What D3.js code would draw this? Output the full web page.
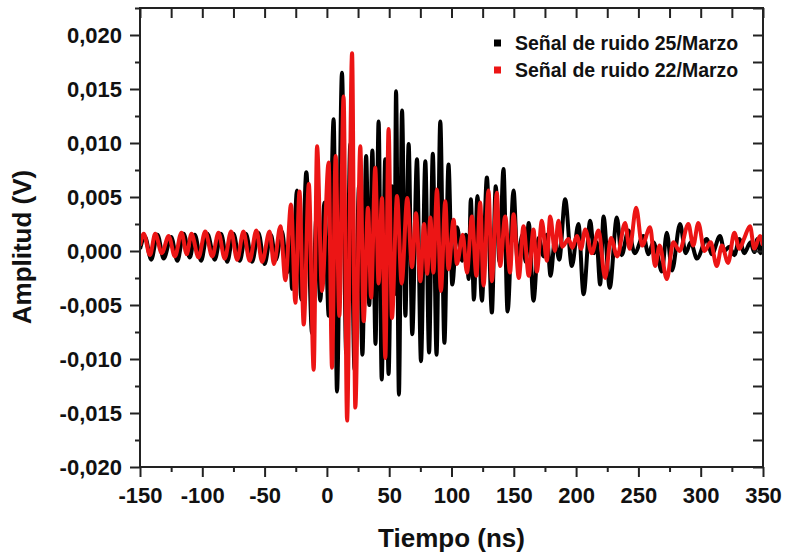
<!DOCTYPE html>
<html>
<head>
<meta charset="utf-8">
<script src="https://cdn.jsdelivr.net/npm/d3@7"></script>
<style>
  body { margin: 0; background: #fff; }
  svg { display: block; font-family: "Liberation Sans", Arial, sans-serif; font-weight: bold; }
</style>
</head>
<body>
<div id="chart"></div>
<script>
// [tiempo (ns), amplitud (V)], peaks and troughs
const ruido25 = [
  [-150, 0.0002], [-146, 0.0013], [-141, -0.0008], [-136, 0.0015], [-131, -0.0007],
  [-125, 0.0013], [-120, -0.0009], [-115, 0.0016], [-110, -0.0006], [-106, 0.0015],
  [-101, -0.0009], [-96, 0.0016], [-90, -0.0008], [-85, 0.0016], [-80, -0.0010],
  [-75, 0.0016], [-70, -0.0009], [-65, 0.0016], [-60, -0.0010], [-55, 0.0017],
  [-50, -0.0012], [-45, 0.0015], [-41, -0.0008], [-36, 0.0018], [-32, -0.0020],
  [-30, 0.0015], [-27.9, -0.0035], [-24, 0.0056], [-20.5, -0.0045], [-16.5, 0.0073],
  [-11.9, -0.0076], [-8.5, 0.0030], [-5.3, -0.0046], [-2, 0.0045], [1.5, -0.0060],
  [5.4, 0.0122], [8.1, -0.0130], [12.1, 0.0165], [15.5, -0.0095], [18.8, 0.0099],
  [22.2, -0.0110], [25.8, 0.0060], [28.5, -0.0096], [31.5, 0.0088], [34, -0.0050],
  [36.5, 0.0093], [39, -0.0086], [41.5, 0.0120], [44, -0.0119], [46.8, 0.0085],
  [49.5, -0.0114], [52.2, 0.0060], [54.2, -0.0040], [55.5, 0.0148], [57.8, -0.0133],
  [60.3, 0.0130], [63, -0.0060], [65.6, 0.0099], [68.5, -0.0077], [72.3, 0.0085],
  [75.5, -0.0102], [79, 0.0083], [82, -0.0094], [85, 0.0090], [88, -0.0096],
  [91, 0.0120], [94.3, -0.0085], [97.6, 0.0080], [100.6, -0.0031], [104.5, 0.0022],
  [108.5, -0.0009], [111.5, 0.0015], [113.8, -0.0026], [115.5, 0.0048], [118, -0.0045],
  [120.8, 0.0051], [124.4, -0.0046], [128.4, 0.0068], [132.4, -0.0057], [135.5, 0.0060],
  [138.5, -0.0010], [141.7, 0.0076], [145, -0.0056], [149.8, 0.0056], [153, -0.0008],
  [157, 0.0015], [159.5, -0.0010], [162, 0.0026], [165.8, -0.0046], [170, 0.0012],
  [174, -0.0005], [176.5, 0.0015], [179.5, -0.0023], [183, 0.0010], [186.5, -0.0008],
  [191.2, 0.0048], [196.6, -0.0014], [201.9, 0.0025], [206, -0.0040], [211.3, 0.0028],
  [214.5, -0.0002], [216.5, 0.0008], [219.3, -0.0031], [222, 0.0032], [227, -0.0034],
  [232.7, 0.0031], [236.5, -0.0004], [242, 0.0019], [247, -0.0002], [254, 0.0014],
  [258, -0.0003], [262, 0.0008], [265, -0.0002], [268.8, -0.0019], [272.8, 0.0017],
  [277, -0.0018], [283.4, 0.0025], [288, -0.0002], [292, 0.0008], [297, -0.0007],
  [304.8, 0.0011], [309, -0.0003], [315.5, 0.0014], [319, 0.0000], [323, 0.0004],
  [327, -0.0004], [331, 0.0011], [335, -0.0002], [340, 0.0008], [343, -0.0001],
  [345.5, 0.0011], [348, -0.0002], [350, 0.0006]
];

const ruido22 = [
  [-150, 0.0005], [-147, 0.0016], [-142, -0.0004], [-137.8, 0.0016], [-132.5, -0.0002],
  [-127, 0.0014], [-122, -0.0005], [-116.7, 0.0017], [-112.5, -0.0003], [-108.7, 0.0016],
  [-103, -0.0006], [-97.7, 0.0018], [-92, -0.0005], [-87, 0.0017], [-82, -0.0007],
  [-76.9, 0.0018], [-72, -0.0008], [-67, 0.0018], [-62, -0.0009], [-56.6, 0.0019],
  [-52, -0.0010], [-46, 0.0018], [-42.5, -0.0012], [-37.3, 0.0023], [-33.3, -0.0027],
  [-28.8, 0.0043], [-25.3, -0.0048], [-22, 0.0055], [-18.6, -0.0068], [-14.5, 0.0062],
  [-10.6, -0.0110], [-7.9, 0.0097], [-3.9, -0.0037], [1.4, 0.0082], [4.1, -0.0108],
  [7, 0.0088], [10, -0.0060], [13.4, 0.0143], [16.2, -0.0157], [20.2, 0.0183],
  [22.8, -0.0145], [26.8, 0.0097], [29.5, -0.0065], [33, 0.0040], [35.5, -0.0043],
  [38.8, 0.0077], [41.5, -0.0030], [44.2, 0.0049], [46.9, -0.0099], [49.5, 0.0113],
  [52.2, -0.0062], [56.3, 0.0051], [60, -0.0030], [64.5, 0.0049], [68.3, -0.0015],
  [71.5, 0.0035], [75, -0.0028], [78, 0.0025], [80.5, -0.0021], [83, 0.0031],
  [85.5, -0.0020], [88.3, 0.0057], [91.5, -0.0037], [95, 0.0046], [97.6, -0.0017],
  [101.7, 0.0029], [104.3, -0.0012], [109, 0.0015], [112.4, -0.0020], [116.4, 0.0032],
  [120, -0.0023], [123, 0.0045], [125.7, -0.0032], [129.7, 0.0056], [132.4, -0.0028],
  [136.4, 0.0054], [139, -0.0014], [143.1, 0.0032], [147, -0.0020], [149.8, 0.0034],
  [154, -0.0025], [157.8, 0.0023], [162, -0.0023], [165.8, 0.0020], [168.5, -0.0019],
  [172.5, 0.0028], [176.5, -0.0009], [179.2, 0.0032], [183, 0.0000], [185.8, 0.0028],
  [189, 0.0004], [193.9, 0.0011], [197, 0.0003], [200.6, 0.0014], [204, 0.0002],
  [207.3, 0.0020], [212.6, -0.0002], [218, 0.0019], [223.3, -0.0025], [228, 0.0012],
  [233, -0.0005], [239.3, 0.0026], [243, 0.0002], [248.2, 0.0040], [253, 0.0005],
  [259.4, 0.0022], [263.4, -0.0014], [267, 0.0005], [272.8, -0.0026], [278, 0.0008],
  [283, 0.0000], [290.1, 0.0025], [294, 0.0005], [298.1, 0.0026], [303, 0.0000],
  [308, 0.0008], [312.9, -0.0014], [317, 0.0005], [322, -0.0011], [327, 0.0017],
  [331, 0.0002], [335, 0.0012], [339.6, 0.0023], [343, 0.0002], [347.6, 0.0014],
  [350, 0.0005]
];

const series = [
  { name: "Señal de ruido 25/Marzo", color: "#000000", data: ruido25 },
  { name: "Señal de ruido 22/Marzo", color: "#ec1515", data: ruido22 }
];

const xTicks = [-150, -100, -50, 0, 50, 100, 150, 200, 250, 300, 350];
const yTicks = [-0.020, -0.015, -0.010, -0.005, 0.000, 0.005, 0.010, 0.015, 0.020];

const width = 785, height = 554;
const margin = { top: 8, right: 22, bottom: 87, left: 140 };

const x = d3.scaleLinear().domain([-150, 350]).range([margin.left, width - margin.right]);
const y = d3.scaleLinear().domain([-0.020, 0.0225]).range([height - margin.bottom, margin.top]);

const locale = d3.formatLocale({ decimal: ",", thousands: ".", grouping: [3], currency: ["", ""], minus: "-" });
const fy = locale.format(".3f");
const fx = locale.format("d");

const svg = d3.select("#chart").append("svg")
  .attr("width", width)
  .attr("height", height);

// curves
const clip = svg.append("clipPath").attr("id", "clip")
  .append("rect")
  .attr("x", x.range()[0]).attr("y", y.range()[1])
  .attr("width", x.range()[1] - x.range()[0])
  .attr("height", y.range()[0] - y.range()[1]);

const line = d3.line(d => x(d[0]), d => y(d[1])).curve(d3.curveMonotoneX);

svg.append("g")
  .attr("id", "plot")
  .attr("clip-path", "url(#clip)")
  .selectAll("path")
  .data(series)
  .join("path")
  .attr("d", d => line(d.data))
  .attr("fill", "none")
  .attr("stroke", d => d.color)
  .attr("stroke-width", 4)
  .attr("stroke-linejoin", "round");

// minor ticks
const xMinor = d3.range(-125, 350, 50);
const yMinor = d3.range(-0.0175, 0.0226, 0.005);

const axisStyle = g => {
  g.selectAll("path").remove();
  g.selectAll("line").attr("stroke", "#222").attr("stroke-width", 2);
  g.selectAll("text").attr("fill", "#111").attr("font-size", 22).attr("font-weight", "bold");
};

const yBase = y.range()[0];
const xBase = x.range()[0];

svg.append("g").attr("transform", `translate(0,${yBase})`)
  .call(d3.axisBottom(x).tickValues(xTicks).tickFormat(fx).tickSize(10).tickPadding(10))
  .call(axisStyle);
svg.append("g").attr("transform", `translate(0,${yBase})`)
  .call(d3.axisBottom(x).tickValues(xMinor).tickFormat("").tickSize(5))
  .call(axisStyle);

svg.append("g").attr("transform", `translate(${xBase},0)`)
  .call(d3.axisLeft(y).tickValues(yTicks).tickFormat(fy).tickSize(10).tickPadding(8))
  .call(axisStyle);
svg.append("g").attr("transform", `translate(${xBase},0)`)
  .call(d3.axisLeft(y).tickValues(yMinor).tickFormat("").tickSize(5))
  .call(axisStyle);

// mirrored ticks, pointing inward
svg.append("g").attr("transform", `translate(0,${y.range()[1]})`)
  .call(d3.axisTop(x).tickValues(xTicks.concat(xMinor)).tickFormat("").tickSize(-10))
  .call(axisStyle);
svg.append("g").attr("transform", `translate(${x.range()[1]},0)`)
  .call(d3.axisRight(y).tickValues(yTicks.concat(yMinor)).tickFormat("").tickSize(-10))
  .call(axisStyle);

// frame
svg.append("rect")
  .attr("x", x.range()[0]).attr("y", y.range()[1])
  .attr("width", x.range()[1] - x.range()[0])
  .attr("height", y.range()[0] - y.range()[1])
  .attr("fill", "none")
  .attr("stroke", "#222")
  .attr("stroke-width", 2);

// axis titles
svg.append("text")
  .attr("x", (x.range()[0] + x.range()[1]) / 2)
  .attr("y", 547)
  .attr("text-anchor", "middle")
  .attr("font-size", 26)
  .attr("fill", "#111")
  .text("Tiempo (ns)");

svg.append("text")
  .attr("transform", "translate(31,247) rotate(-90)")
  .attr("text-anchor", "middle")
  .attr("font-size", 26)
  .attr("fill", "#111")
  .text("Amplitud (V)");

// legend
const legend = svg.append("g").attr("transform", "translate(494,43)")
  .selectAll("g")
  .data(series)
  .join("g")
  .attr("transform", (d, i) => `translate(0,${i * 27})`);

legend.append("rect")
  .attr("x", 0).attr("y", -3.5)
  .attr("width", 7).attr("height", 7)
  .attr("fill", d => d.color);

legend.append("text")
  .attr("x", 21)
  .attr("y", 7)
  .attr("font-size", 19.5)
  .attr("fill", "#111")
  .text(d => d.name);
</script>
</body>
</html>
